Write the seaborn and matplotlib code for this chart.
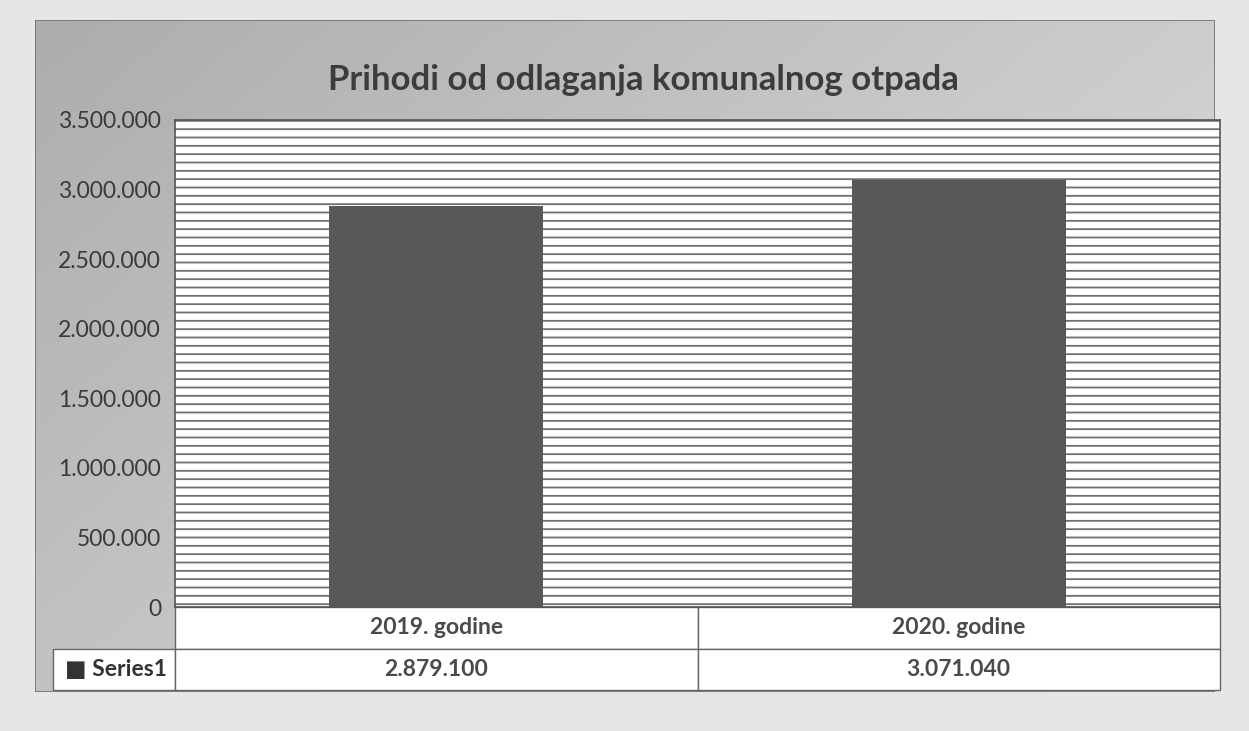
import numpy as np
import pandas as pd
import matplotlib
matplotlib.use("Agg")
import matplotlib.pyplot as plt
import seaborn as sns
from matplotlib.ticker import FuncFormatter

categories = ["2019. godine", "2020. godine"]
values = [2879100, 3071040]
series_name = "Series1"
title = "Prihodi od odlaganja komunalnog otpada"
yticks = [0, 500000, 1000000, 1500000, 2000000, 2500000, 3000000, 3500000]

sns.set_theme(style="white")
plt.rcParams["font.family"] = ["Lato", "DejaVu Sans"]
plt.rcParams["hatch.color"] = "#6e6e6e"
plt.rcParams["hatch.linewidth"] = 1.3

W, H = 1249, 731
fig = plt.figure(figsize=(W / 100, H / 100), dpi=100, facecolor="#e6e6e6")

def fx(x):
    return x / W

def fy(y):
    return 1 - y / H

# background gradient for chart area
bg = fig.add_axes([fx(35), fy(692), fx(1215 - 35), fy(20) - fy(692)], zorder=0)
gx, gy = np.meshgrid(np.linspace(0, 1, 200), np.linspace(0, 1, 120))
grad = 0.6 * gx + 0.4 * gy
bg.imshow(grad, cmap=sns.blend_palette(["#adadad", "#c8c8c8", "#e0e0e0"], as_cmap=True),
          aspect="auto", extent=[0, 1, 0, 1], origin="upper")
bg.set_axis_off()
bg.add_patch(plt.Rectangle((0, 0), 1, 1, transform=bg.transAxes, fill=False,
                           edgecolor="#707070", lw=1.2))

df = pd.DataFrame({"cat": categories, "val": values})

ax = fig.add_axes([fx(175), fy(607), fx(1220 - 175), fy(120) - fy(607)], zorder=2)
ax.patch.set_facecolor("white")
ax.patch.set_hatch("--")
ax.patch.set_edgecolor("#6e6e6e")
sns.barplot(data=df, x="cat", y="val", color="#585858", width=0.41,
            saturation=1, ax=ax, zorder=3, linewidth=0)
ax.set_ylim(0, 3500000)
ax.set_yticks(yticks)
ax.yaxis.set_major_formatter(FuncFormatter(lambda v, p: f"{int(v):,}".replace(",", ".")))
ax.tick_params(axis="y", labelsize=16.5, colors="#3a3a3a", length=0, pad=10)
ax.set_xticks([])
ax.set_xlabel("")
ax.set_ylabel("")
for s in ax.spines.values():
    s.set_color("#555555")
    s.set_linewidth(1.2)

fig.text(fx(643), fy(80), title, fontsize=25, fontweight="bold", color="#3c3c3c",
         ha="center", va="center")

# data table below the axes
tab = ax.table(cellText=[[f"{v:,}".replace(",", ".") for v in values]],
               rowLabels=["\u25a0 " + series_name],
               colLabels=categories,
               cellLoc="center", rowLoc="left",
               bbox=[0, -83 / 487, 1, 83 / 487])
tab.auto_set_font_size(False)
for (r, c), cell in tab.get_celld().items():
    cell.set_edgecolor("#666666")
    cell.set_linewidth(1.0)
    cell.set_facecolor("white")
    cell.get_text().set_fontsize(16.5)
    cell.get_text().set_fontweight("bold")
    cell.get_text().set_color("#4a4a4a")
    if c == -1:
        cell.set_width(125 / 1045)
        cell.get_text().set_color("#333333")

fig.savefig("out.png", dpi=100, facecolor=fig.get_facecolor())
